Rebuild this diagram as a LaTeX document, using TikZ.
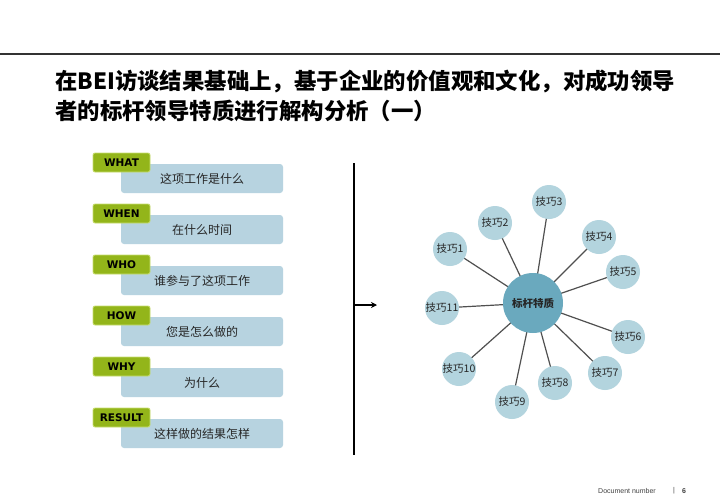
\documentclass[tikz,border=0pt]{standalone}
\usepackage{fontspec}
\setmainfont{Liberation Sans}
\newfontfamily\cjk{Noto Sans CJK SC}
\newfontfamily\tabfont{DejaVu Sans}
\usetikzlibrary{arrows.meta}
\pgfdeclarelayer{bg}
\pgfsetlayers{bg,main}
\definecolor{boxblue}{HTML}{B7D3E0}
\definecolor{tabgreen}{HTML}{93B51A}
\definecolor{tabedge}{HTML}{C8DE70}
\definecolor{smallc}{HTML}{B3D4DE}
\definecolor{bigc}{HTML}{6AA9BE}
\definecolor{spoke}{HTML}{505050}
\tikzset{
  qbox/.style={fill=boxblue, rounded corners=3pt, minimum width=162pt, minimum height=29pt, inner sep=0pt, font=\cjk\fontsize{12}{14}\selectfont, text=black!85},
  qtab/.style={fill=tabgreen, draw=tabedge, line width=0.8pt, rounded corners=2pt, minimum width=57pt, minimum height=19pt, inner sep=0pt, font=\tabfont\bfseries\fontsize{10.5}{12}\selectfont, text=black},
  skill/.style={circle, fill=smallc, minimum size=34pt, inner sep=0pt, font=\cjk\fontsize{10.5}{12}\selectfont, text=black!85},
  core/.style={circle, fill=bigc, minimum size=60pt, inner sep=0pt, font=\cjk\bfseries\fontsize{10.5}{12}\selectfont, text=black!85},
  spokeline/.style={draw=spoke, line width=1.2pt},
  titletext/.style={anchor=west, inner sep=0pt, font=\cjk\bfseries\fontsize{22.4}{26}\selectfont, text=black}
}
\begin{document}
\begin{tikzpicture}[x=1pt,y=-1pt]
\useasboundingbox (0,0) rectangle (720,498);
\begin{pgfonlayer}{bg}
\fill[white] (0,0) rectangle (720,498);
\end{pgfonlayer}
% header line
\coordinate (hl) at (0,54);
\coordinate (hr) at (720,54);
\draw[black!80, line width=1.2pt] (hl) -- (hr);
% title
\node[titletext] (title1) at (55,81) {在BEI访谈结果基础上，基于企业的价值观和文化，对成功领导};
\node[titletext] (title2) at (55,111) {者的标杆领导特质进行解构分析（一）};
% left boxes
\foreach \i/\yy/\tab/\txt in {1/178.5/WHAT/这项工作是什么, 2/229.5/WHEN/在什么时间, 3/280.5/WHO/谁参与了这项工作, 4/331.5/HOW/您是怎么做的, 5/382.5/WHY/为什么, 6/433.5/RESULT/这样做的结果怎样}{
  \node[qbox] (box\i) at (202,\yy) {\txt};
  \node[qtab] (tab\i) at (121.5,\yy-16) {\tab};
}
% divider and arrow
\coordinate (vt) at (354,163);
\coordinate (vb) at (354,455);
\coordinate (as) at (354,305);
\coordinate (ae) at (377,305);
\draw[black, line width=1.8pt] (vt) -- (vb);
\draw[black, line width=1.4pt, -{Stealth[length=6pt,width=6pt]}] (as) -- (ae);
% hub and skills
\node[core] (hub) at (533,303) {标杆特质};
\foreach \n/\px/\py in {1/450/249, 2/495/223, 3/549/202, 4/599/237, 5/623/272, 6/628/337, 7/605/373, 8/555/383, 9/512/402, 10/459/369, 11/442/308}{
  \node[skill] (s\n) at (\px,\py) {技巧\n};
}
\begin{pgfonlayer}{bg}
\foreach \n in {1,...,11}{
  \draw[spokeline] (hub.center) -- (s\n.center);
}
\end{pgfonlayer}
% footer
\node[anchor=west, inner sep=0pt, font=\fontsize{7}{8}\selectfont, text=black!75] (doc) at (598,491) {Document\ number};
\node[inner sep=0pt, font=\fontsize{7}{8}\selectfont, text=black!75] (bar) at (674,491) {|};
\node[inner sep=0pt, font=\bfseries\fontsize{7}{8}\selectfont, text=black!75] (pg) at (684,491) {6};
\end{tikzpicture}
\end{document}
